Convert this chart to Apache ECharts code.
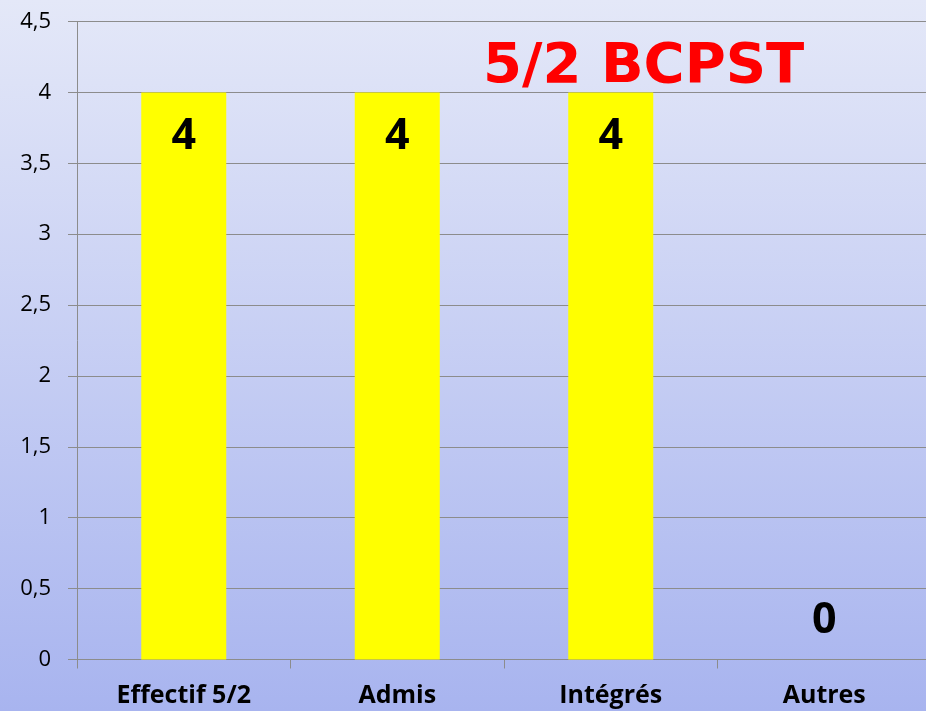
<!DOCTYPE html>
<html>
<head>
<meta charset="utf-8">
<script src="https://cdn.jsdelivr.net/npm/echarts@6/dist/echarts.min.js"></script>
<style>
  html, body { margin: 0; padding: 0; }
  #chart { width: 926px; height: 711px; }
</style>
</head>
<body>
<div id="chart"></div>
<script>
const categories = ['Effectif 5/2', 'Admis', 'Intégrés', 'Autres'];
const values = [4, 4, 4, 0];
const titleText = '5/2 BCPST';

const chart = echarts.init(document.getElementById('chart'));

const option = {
  backgroundColor: {
    type: 'linear', x: 0, y: 0, x2: 0, y2: 1,
    colorStops: [
      { offset: 0, color: '#e4e8f8' },
      { offset: 1, color: '#a8b4ef' }
    ]
  },
  title: {
    text: titleText,
    left: 478,
    top: 34,
    textStyle: {
      color: '#ff0000',
      fontFamily: 'DejaVu Sans',
      fontWeight: 'bold',
      fontSize: 56
    }
  },
  grid: {
    left: 77,
    top: 21.5,
    right: -5,
    bottom: 51.5,
    containLabel: false,
    outerBoundsMode: 'none'
  },
  xAxis: {
    type: 'category',
    data: categories,
    axisLine: { lineStyle: { color: '#8c8c8c', width: 1 } },
    axisTick: { show: true, length: 9, lineStyle: { color: '#8c8c8c' } },
    axisLabel: {
      margin: 24,
      color: '#000',
      fontFamily: 'Open Sans',
      fontWeight: 'bold',
      fontSize: 25
    }
  },
  yAxis: {
    type: 'value',
    min: 0,
    max: 4.5,
    interval: 0.5,
    axisLine: { show: true, lineStyle: { color: '#8c8c8c', width: 1 } },
    axisTick: { show: true, length: 9, lineStyle: { color: '#8c8c8c' } },
    splitLine: { show: true, lineStyle: { color: '#8c8c8c', width: 1 } },
    axisLabel: {
      margin: 26,
      color: '#000',
      fontFamily: 'Open Sans',
      fontSize: 22,
      formatter: v => String(v).replace('.', ',')
    }
  },
  series: [{
    type: 'bar',
    barWidth: 85,
    itemStyle: { color: '#ffff00' },
    data: values.map(v => ({
      value: v,
      label: v === 0 ? { position: 'top', distance: 17 } : { position: 'insideTop', distance: 23 }
    })),
    label: {
      show: true,
      color: '#000',
      fontFamily: 'Open Sans',
      fontWeight: 'bold',
      fontSize: 43
    }
  }]
};

chart.setOption(option);
</script>
</body>
</html>
